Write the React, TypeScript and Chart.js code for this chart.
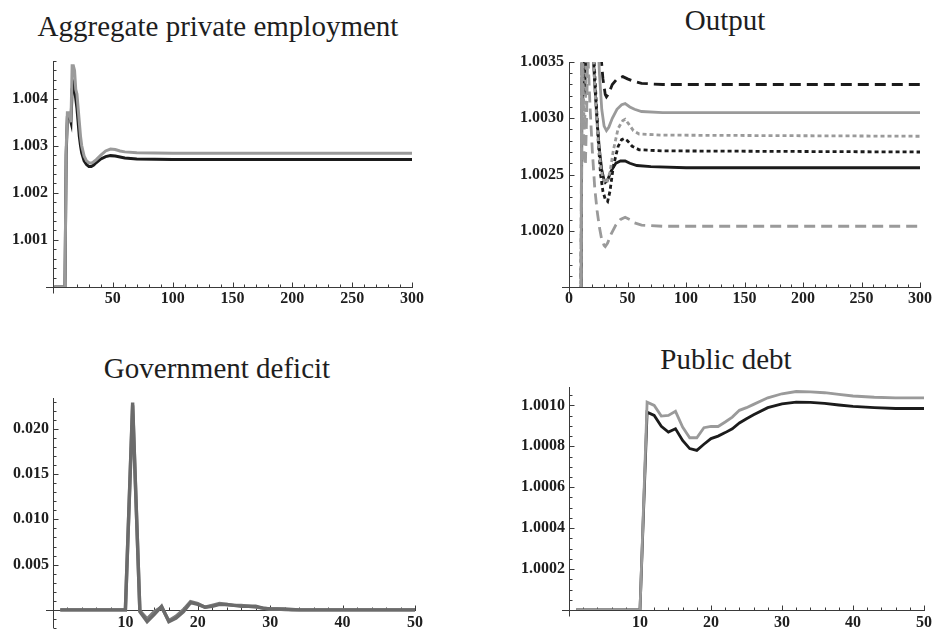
import React, { useEffect, useRef } from 'react';
import { Chart, registerables } from 'chart.js';

Chart.register(...registerables);

const SERIF = '"Liberation Serif", "Times New Roman", serif';
const BLACK = '#1b1b1b';
const GRAY = '#9a9a9a';

// ---------- Aggregate private employment ----------
const empGrayT = [1, 10, 11, 12, 14, 15, 16, 17, 18, 19, 20, 21, 22, 23, 24, 26, 28, 30, 32, 34, 36, 40, 44, 48, 52, 56, 60, 70, 100, 300];
const empGrayY = [1.0, 1.0, 1.0029, 1.0037, 1.0037, 1.0035, 1.0047, 1.0047, 1.0046, 1.0042, 1.0041, 1.0038, 1.0035, 1.0032, 1.003, 1.00278, 1.00268, 1.00264, 1.00263, 1.00266, 1.0027, 1.0028, 1.00289, 1.00293, 1.00292, 1.00289, 1.00287, 1.00285, 1.00284, 1.00284];
const empBlackT = [1, 10, 11, 12, 14, 15, 16, 17, 18, 19, 20, 21, 22, 23, 24, 26, 28, 30, 32, 34, 36, 40, 44, 48, 52, 56, 60, 70, 100, 300];
const empBlackY = [1.0, 1.0, 1.0028, 1.0036, 1.0036, 1.0035, 1.0042, 1.0043, 1.0042, 1.004, 1.0038, 1.0035, 1.0032, 1.003, 1.00285, 1.00268, 1.0026, 1.00256, 1.00256, 1.00259, 1.00264, 1.00272, 1.00277, 1.00279, 1.00278, 1.00276, 1.00274, 1.00272, 1.00271, 1.00271];
const empXLabels = ['50', '100', '150', '200', '250', '300'];
const empYLabels = ['1.001', '1.002', '1.003', '1.004'];

// ---------- Output ----------
const outBlackSolidT = [1, 10, 11, 12, 13, 14, 16, 18, 20, 22, 24, 26, 28, 30, 31, 33, 36, 40, 44, 48, 52, 58, 70, 100, 300];
const outBlackSolidY = [1.0, 1.0, 1.0031, 1.0034, 1.0032, 1.0034, 1.0038, 1.004, 1.0037, 1.0033, 1.00298, 1.00272, 1.00254, 1.00245, 1.00243, 1.00245, 1.00253, 1.0026, 1.00262, 1.00262, 1.0026, 1.00258, 1.00257, 1.00256, 1.00256];
const outBlackDottedT = [1, 10, 11, 12, 13, 15, 17, 19, 21, 23, 25, 27, 29, 31, 33, 35, 38, 42, 45, 47, 50, 54, 60, 80, 300];
const outBlackDottedY = [1.0, 1.0, 1.0037, 1.0033, 1.0036, 1.0039, 1.0041, 1.0039, 1.0036, 1.0032, 1.0028, 1.0025, 1.00235, 1.00228, 1.00226, 1.00235, 1.00258, 1.00275, 1.00281, 1.00282, 1.0028, 1.00275, 1.00272, 1.00271, 1.0027];
const outBlackDashedT = [1, 10, 11, 14, 18, 22, 25, 27, 29, 31, 32, 34, 37, 41, 46, 50, 55, 62, 80, 300];
const outBlackDashedY = [1.0, 1.0, 1.0041, 1.0044, 1.0046, 1.0043, 1.0039, 1.0036, 1.00335, 1.00321, 1.00319, 1.00322, 1.0033, 1.00335, 1.00337, 1.00335, 1.00333, 1.00331, 1.0033, 1.0033];
const outGraySolidT = [1, 10, 11, 14, 18, 22, 24, 26, 28, 30, 32, 34, 37, 41, 45, 48, 52, 56, 62, 80, 300];
const outGraySolidY = [1.0, 1.0, 1.0042, 1.0045, 1.0047, 1.0043, 1.0039, 1.0034, 1.00308, 1.00293, 1.00289, 1.00292, 1.003, 1.00308, 1.00312, 1.00313, 1.0031, 1.00308, 1.00306, 1.00305, 1.00305];
const outGrayDottedT = [1, 10, 11, 12, 13, 14, 15, 17, 19, 21, 23, 25, 27, 29, 32, 35, 38, 42, 46, 48, 51, 55, 60, 80, 300];
const outGrayDottedY = [1.0, 1.0, 1.004, 1.0034, 1.0029, 1.0031, 1.0037, 1.004, 1.0038, 1.0035, 1.0031, 1.0028, 1.00258, 1.00246, 1.00242, 1.00252, 1.00272, 1.00291, 1.00298, 1.00299, 1.00295, 1.00289, 1.00286, 1.00285, 1.00284];
const outGrayDashedT = [1, 10, 11, 12, 13, 14, 15, 16, 18, 20, 22, 24, 26, 28, 30, 31, 33, 36, 40, 44, 48, 52, 56, 62, 80, 300];
const outGrayDashedY = [1.0, 1.0, 1.0038, 1.0031, 1.00265, 1.00258, 1.003, 1.0036, 1.0031, 1.0027, 1.00238, 1.00218, 1.00203, 1.00192, 1.00187, 1.00186, 1.00189, 1.00197, 1.00205, 1.0021, 1.00212, 1.0021, 1.00207, 1.00205, 1.00204, 1.00204];
const outXLabels = ['0', '50', '100', '150', '200', '250', '300'];
const outYLabels = ['1.0020', '1.0025', '1.0030', '1.0035'];

// ---------- Government deficit (periods 1..50) ----------
const defT = [1, 2, 3, 4, 5, 6, 7, 8, 9, 10, 11, 12, 13, 14, 15, 16, 17, 18, 19, 20, 21, 22, 23, 24, 25, 26, 27, 28, 29, 30, 31, 32, 33, 34, 35, 36, 37, 38, 39, 40, 41, 42, 43, 44, 45, 46, 47, 48, 49, 50];
const defA = [0, 0, 0, 0, 0, 0, 0, 0, 0, 0, 0.0229, -0.0002, -0.0013, -0.0005, 0.0004, -0.0013, -0.0009, -0.0002, 0.0008, 0.0006, 0.0003, 0.0004, 0.0006, 0.0006, 0.0005, 0.0004, 0.0004, 0.0004, 0.0002, 0.0001, 0.0001, 0.0001, 0.00005, 0, 0, 0, 0, 0, 0, 0, 0, 0, 0, 0, 0, 0, 0, 0, 0, 0];
const defB = [0, 0, 0, 0, 0, 0, 0, 0, 0, 0, 0.0226, -0.0001, -0.001, -0.0002, 0.0003, -0.0012, -0.0007, 0.0, 0.0009, 0.0007, 0.0003, 0.0005, 0.0007, 0.0006, 0.0005, 0.0005, 0.0004, 0.0003, 0.0002, 0.0001, 0.0001, 0.00005, 0.00002, 0, 0, 0, 0, 0, 0, 0, 0, 0, 0, 0, 0, 0, 0, 0, 0, 0];
const defXLabels = ['10', '20', '30', '40', '50'];
const defYLabels = ['0.005', '0.010', '0.015', '0.020'];

// ---------- Public debt ----------
const debtT = [1, 10, 11, 12, 13, 14, 15, 16, 17, 18, 19, 20, 21, 22, 23, 24, 25, 26, 28, 30, 32, 34, 36, 38, 40, 43, 46, 50];
const debtGray = [1.0, 1.0, 1.001016, 1.001, 1.000948, 1.000951, 1.000971, 1.000894, 1.000842, 1.000842, 1.000891, 1.000897, 1.000897, 1.000919, 1.000943, 1.000976, 1.000989, 1.001005, 1.001037, 1.001057, 1.001068, 1.001066, 1.001062, 1.001054, 1.001046, 1.00104, 1.001037, 1.001037];
const debtBlack = [1.0, 1.0, 1.000967, 1.000951, 1.000898, 1.00087, 1.000886, 1.000829, 1.000789, 1.00078, 1.00081, 1.000838, 1.00085, 1.000867, 1.000886, 1.000914, 1.000935, 1.000954, 1.000989, 1.001008, 1.001016, 1.001015, 1.00101, 1.001002, 1.000995, 1.000989, 1.000985, 1.000985];
const debtXLabels = ['10', '20', '30', '40', '50'];
const debtYLabels = ['1.0002', '1.0004', '1.0006', '1.0008', '1.0010'];

type Series = { xs: number[]; ys: number[]; color: string; width: number; dash?: number[] };
type Rect = { left: number; top: number; width: number; height: number };
type Area = { left: number; top: number; right: number; bottom: number };

type PanelSpec = {
  title: string;
  titleX: number;
  titleBaseline: number;
  box: Rect;
  area: Area;
  xMin: number;
  xMax: number;
  yMin: number;
  yMax: number;
  xAxisAt: number; // y value where the horizontal axis sits
  xLabels: string[];
  yLabels: string[];
  xMinorStep: number;
  yMinorStep: number;
  xLabelGap: number;
  yLabelGap: number;
  series: Series[];
};

const panels: PanelSpec[] = [
  {
    title: 'Aggregate private employment',
    titleX: 218,
    titleBaseline: 36,
    box: { left: 0, top: 45, width: 460, height: 270 },
    area: { left: 53, top: 61, right: 412, bottom: 287 },
    xMin: 0, xMax: 300, yMin: 1.0, yMax: 1.0048, xAxisAt: 1.0,
    xLabels: empXLabels, yLabels: empYLabels,
    xMinorStep: 10, yMinorStep: 0.0002,
    xLabelGap: 2, yLabelGap: 5,
    series: [
      { xs: empGrayT, ys: empGrayY, color: GRAY, width: 3 },
      { xs: empBlackT, ys: empBlackY, color: BLACK, width: 3 },
    ],
  },
  {
    title: 'Output',
    titleX: 725,
    titleBaseline: 30.5,
    box: { left: 460, top: 45, width: 474, height: 270 },
    area: { left: 569, top: 62, right: 920, bottom: 287 },
    xMin: 0, xMax: 300, yMin: 1.0015, yMax: 1.0035, xAxisAt: 1.0015,
    xLabels: outXLabels, yLabels: outYLabels,
    xMinorStep: 10, yMinorStep: 0.0001,
    xLabelGap: 2, yLabelGap: 5,
    series: [
      { xs: outGraySolidT, ys: outGraySolidY, color: GRAY, width: 2.8 },
      { xs: outGrayDottedT, ys: outGrayDottedY, color: GRAY, width: 2.8, dash: [4, 3] },
      { xs: outGrayDashedT, ys: outGrayDashedY, color: GRAY, width: 2.8, dash: [11, 6] },
      { xs: outBlackSolidT, ys: outBlackSolidY, color: BLACK, width: 2.8 },
      { xs: outBlackDottedT, ys: outBlackDottedY, color: BLACK, width: 2.8, dash: [4, 3] },
      { xs: outBlackDashedT, ys: outBlackDashedY, color: BLACK, width: 2.8, dash: [11, 6] },
    ],
  },
  {
    title: 'Government deficit',
    titleX: 217,
    titleBaseline: 378,
    box: { left: 0, top: 385, width: 460, height: 245 },
    area: { left: 53, top: 398, right: 415, bottom: 628 },
    xMin: 0, xMax: 50, yMin: -0.002, yMax: 0.0234, xAxisAt: 0,
    xLabels: defXLabels, yLabels: defYLabels,
    xMinorStep: 2, yMinorStep: 0.001,
    xLabelGap: 3, yLabelGap: 4,
    series: [
      { xs: defT, ys: defA, color: '#6b6b6b', width: 3.4 },
      { xs: defT, ys: defB, color: '#7e7e7e', width: 3.4 },
    ],
  },
  {
    title: 'Public debt',
    titleX: 726,
    titleBaseline: 369,
    box: { left: 460, top: 375, width: 474, height: 255 },
    area: { left: 569, top: 387, right: 924, bottom: 610 },
    xMin: 0, xMax: 50, yMin: 1.0, yMax: 1.00109, xAxisAt: 1.0,
    xLabels: debtXLabels, yLabels: debtYLabels,
    xMinorStep: 2, yMinorStep: 0.00005,
    xLabelGap: 3, yLabelGap: 4,
    series: [
      { xs: debtT, ys: debtGray, color: GRAY, width: 2.8 },
      { xs: debtT, ys: debtBlack, color: BLACK, width: 2.8 },
    ],
  },
];

function stepValues(min: number, max: number, step: number): number[] {
  const out: number[] = [];
  const k0 = Math.ceil(min / step - 1e-6);
  const k1 = Math.floor(max / step + 1e-6);
  for (let k = k0; k <= k1; k++) out.push(k * step);
  return out;
}

// Axes drawn in the style of a classic math plot: crossing axis lines with inward ticks.
const crossAxes = {
  id: 'crossAxes',
  beforeDatasetsDraw(chart: any, _args: any, opts: any) {
    const { ctx, chartArea } = chart;
    const xs = chart.scales.x;
    const ys = chart.scales.y;
    const ox = Math.round(xs.getPixelForValue(opts.xMin)) + 0.5;
    const oy = Math.round(ys.getPixelForValue(opts.xAxisAt)) + 0.5;
    ctx.save();
    ctx.strokeStyle = '#3a3a3a';
    ctx.lineWidth = 1;
    ctx.beginPath();
    ctx.moveTo(chartArea.left - 7, oy);
    ctx.lineTo(chartArea.right + 1, oy);
    ctx.moveTo(ox, chartArea.top);
    ctx.lineTo(ox, Math.max(chartArea.bottom, oy + 6));

    const xMajor: number[] = opts.xMajor;
    const yMajor: number[] = opts.yMajor;
    const near = (a: number[], v: number, eps: number) => a.some((m) => Math.abs(m - v) < eps);

    stepValues(opts.xMin, opts.xMax, opts.xMinorStep).forEach((v: number) => {
      if (Math.abs(v - opts.xMin) < 1e-9) return;
      const len = near(xMajor, v, opts.xMinorStep / 10) ? 5 : 3;
      const px = Math.round(xs.getPixelForValue(v)) + 0.5;
      ctx.moveTo(px, oy);
      ctx.lineTo(px, oy - len);
    });
    stepValues(opts.yMin, opts.yMax, opts.yMinorStep).forEach((v: number) => {
      if (Math.abs(v - opts.xAxisAt) < opts.yMinorStep / 10) return;
      const len = near(yMajor, v, opts.yMinorStep / 10) ? 5 : 3;
      const py = Math.round(ys.getPixelForValue(v)) + 0.5;
      ctx.moveTo(ox, py);
      ctx.lineTo(ox + len, py);
    });
    ctx.stroke();
    ctx.restore();
  },
};

function Panel({ spec }: { spec: PanelSpec }) {
  const ref = useRef<HTMLCanvasElement | null>(null);

  useEffect(() => {
    if (!ref.current) return;
    const { box, area } = spec;
    const xVals = spec.xLabels.map(Number);
    const yVals = spec.yLabels.map(Number);
    const yWidth = area.left - box.left;
    const tickFont = { family: SERIF, size: 16, weight: 'bold' as const };

    const chart = new Chart(ref.current, {
      type: 'line',
      data: {
        datasets: spec.series.map((s) => ({
          data: s.xs.map((x, i) => ({ x, y: s.ys[i] })),
          borderColor: s.color,
          borderWidth: s.width,
          borderDash: s.dash ?? [],
          borderCapStyle: 'butt' as const,
          borderJoinStyle: 'miter' as const,
          pointRadius: 0,
          tension: 0,
          fill: false,
        })),
      },
      options: {
        animation: false,
        responsive: false,
        events: [],
        layout: {
          padding: {
            left: 0,
            top: area.top - box.top,
            right: box.left + box.width - area.right,
            bottom: box.top + box.height - area.bottom,
          },
        },
        scales: {
          x: {
            type: 'linear',
            min: spec.xMin,
            max: spec.xMax,
            position: { y: spec.xAxisAt } as any,
            grid: { display: false, drawTicks: false },
            border: { display: false },
            afterFit: (s: any) => {
              s.height = 0;
              s.paddingLeft = 0;
              s.paddingRight = 0;
            },
            afterBuildTicks: (s: any) => { s.ticks = xVals.map((v) => ({ value: v })); },
            ticks: {
              autoSkip: false,
              maxRotation: 0,
              minRotation: 0,
              padding: spec.xLabelGap,
              color: '#1e1e1e',
              font: tickFont,
              callback: (_v: any, i: number) => spec.xLabels[i],
            },
          },
          y: {
            type: 'linear',
            min: spec.yMin,
            max: spec.yMax,
            position: 'left',
            grid: { display: false, drawTicks: false },
            border: { display: false },
            afterFit: (s: any) => {
              s.width = yWidth;
              s.paddingTop = 0;
              s.paddingBottom = 0;
            },
            afterBuildTicks: (s: any) => { s.ticks = yVals.map((v) => ({ value: v })); },
            ticks: {
              autoSkip: false,
              padding: spec.yLabelGap,
              color: '#1e1e1e',
              font: tickFont,
              callback: (_v: any, i: number) => spec.yLabels[i],
            },
          },
        },
        plugins: {
          legend: { display: false },
          tooltip: { enabled: false },
          title: { display: false },
          crossAxes: {
            xMin: spec.xMin,
            xMax: spec.xMax,
            yMin: spec.yMin,
            yMax: spec.yMax,
            xAxisAt: spec.xAxisAt,
            xMajor: xVals,
            yMajor: yVals,
            xMinorStep: spec.xMinorStep,
            yMinorStep: spec.yMinorStep,
          },
        } as any,
      },
      plugins: [crossAxes],
    });
    return () => chart.destroy();
  }, [spec]);

  const { box } = spec;
  return (
    <>
      <div
        style={{
          position: 'absolute',
          left: spec.titleX - 250,
          width: 500,
          top: spec.titleBaseline - 24.3,
          textAlign: 'center',
          fontFamily: SERIF,
          fontSize: 29,
          lineHeight: '29px',
          color: '#1e1e1e',
          whiteSpace: 'nowrap',
        }}
      >
        {spec.title}
      </div>
      <canvas
        ref={ref}
        width={box.width}
        height={box.height}
        style={{ position: 'absolute', left: box.left, top: box.top, width: box.width, height: box.height }}
      />
    </>
  );
}

export default function App() {
  return (
    <div style={{ position: 'fixed', left: 0, top: 0, width: 934, height: 630, background: '#ffffff', overflow: 'hidden' }}>
      {panels.map((p) => (
        <Panel key={p.title} spec={p} />
      ))}
    </div>
  );
}
